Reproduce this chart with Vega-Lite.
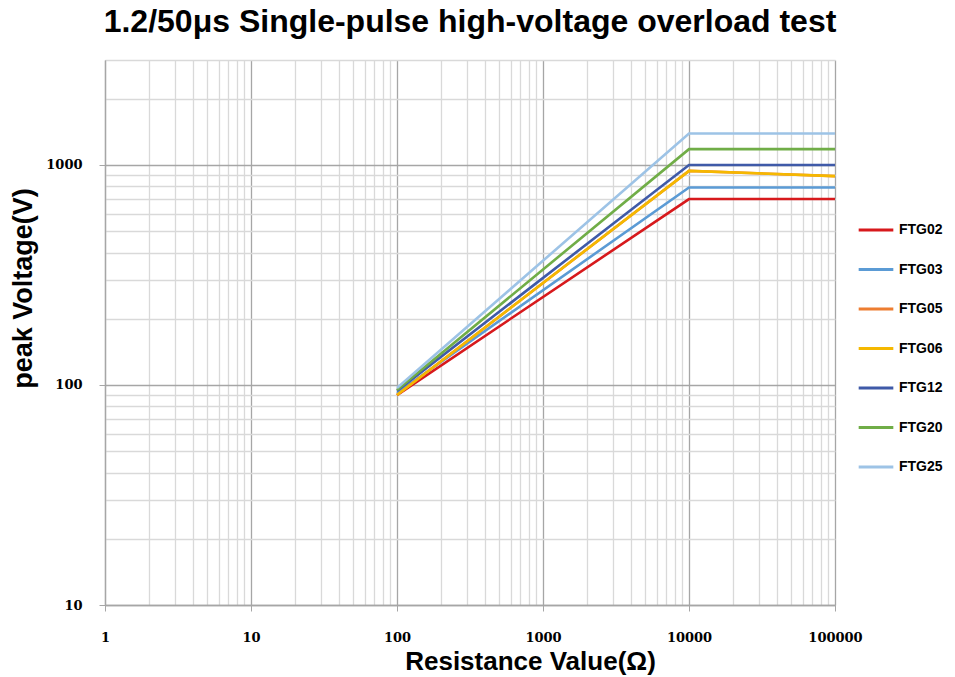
{
  "$schema": "https://vega.github.io/schema/vega-lite/v6.json",
  "autosize": "none",
  "width": 730,
  "height": 545,
  "padding": {"left": 105, "top": 60, "right": 120, "bottom": 72},
  "background": "white",
  "title": {
    "text": "1.2/50μs Single-pulse high-voltage overload test",
    "font": "Liberation Sans",
    "fontSize": 32,
    "fontWeight": "bold",
    "color": "black",
    "anchor": "middle",
    "offset": 15
  },
  "config": {"view": {"stroke": null}},
  "data": {
    "values": [
      {"series": "FTG02", "R": 100, "V": 90},
      {"series": "FTG02", "R": 10000, "V": 700},
      {"series": "FTG02", "R": 100000, "V": 700},
      {"series": "FTG03", "R": 100, "V": 92},
      {"series": "FTG03", "R": 10000, "V": 790},
      {"series": "FTG03", "R": 100000, "V": 790},
      {"series": "FTG05", "R": 100, "V": 90},
      {"series": "FTG05", "R": 10000, "V": 940},
      {"series": "FTG05", "R": 100000, "V": 890},
      {"series": "FTG06", "R": 100, "V": 90},
      {"series": "FTG06", "R": 10000, "V": 940},
      {"series": "FTG06", "R": 100000, "V": 890},
      {"series": "FTG12", "R": 100, "V": 94},
      {"series": "FTG12", "R": 10000, "V": 1000},
      {"series": "FTG12", "R": 100000, "V": 1000},
      {"series": "FTG20", "R": 100, "V": 95},
      {"series": "FTG20", "R": 10000, "V": 1180},
      {"series": "FTG20", "R": 100000, "V": 1180},
      {"series": "FTG25", "R": 100, "V": 97},
      {"series": "FTG25", "R": 10000, "V": 1390},
      {"series": "FTG25", "R": 100000, "V": 1390}
    ]
  },
  "mark": {"type": "line", "strokeWidth": 2.6, "clip": true},
  "encoding": {
    "x": {
      "field": "R",
      "type": "quantitative",
      "scale": {"type": "log", "domain": [1, 100000], "nice": false},
      "axis": {
        "title": "Resistance Value(Ω)",
        "titleFont": "Liberation Sans",
        "titleFontSize": 26,
        "titleFontWeight": "bold",
        "titleColor": "black",
        "titleX": 425,
        "titleY": 64,
        "titleAlign": "center",
        "titleBaseline": "alphabetic",
        "values": [1,2,3,4,5,6,7,8,9,10,20,30,40,50,60,70,80,90,100,200,300,400,500,600,700,800,900,1000,2000,3000,4000,5000,6000,7000,8000,9000,10000,20000,30000,40000,50000,60000,70000,80000,90000,100000],
        "format": "d",
        "labelExpr": "abs(log(datum.value)/LN10 - round(log(datum.value)/LN10)) < 1e-6 ? datum.label : ''",
        "labelFont": "DejaVu Serif",
        "labelFontSize": 13,
        "labelFontWeight": "bold",
        "labelColor": "black",
        "labelPadding": 20,
        "labelFlush": false,
        "labelOverlap": false,
        "grid": true,
        "gridColor": {"condition": {"test": "abs(log(datum.value)/LN10 - round(log(datum.value)/LN10)) < 1e-6", "value": "#a6a6a6"}, "value": "#d9d9d9"},
        "gridWidth": 1.3,
        "tickColor": {"condition": {"test": "abs(log(datum.value)/LN10 - round(log(datum.value)/LN10)) < 1e-6", "value": "#a6a6a6"}, "value": "transparent"},
        "tickSize": 6,
        "domainColor": "#a6a6a6",
        "domainWidth": 1.3
      }
    },
    "y": {
      "field": "V",
      "type": "quantitative",
      "scale": {"type": "log", "domain": [10, 3000], "nice": false},
      "axis": {
        "title": "peak Voltage(V)",
        "titleFont": "Liberation Sans",
        "titleFontSize": 27,
        "titleFontWeight": "bold",
        "titleColor": "black",
        "titleAngle": -90,
        "titleX": -82,
        "titleY": 228,
        "titleAlign": "center",
        "titleBaseline": "middle",
        "values": [10,20,30,40,50,60,70,80,90,100,200,300,400,500,600,700,800,900,1000,2000,3000],
        "format": "d",
        "labelExpr": "abs(log(datum.value)/LN10 - round(log(datum.value)/LN10)) < 1e-6 ? datum.label : ''",
        "labelFont": "DejaVu Serif",
        "labelFontSize": 13,
        "labelFontWeight": "bold",
        "labelColor": "black",
        "labelPadding": 17,
        "labelFlush": false,
        "labelOverlap": false,
        "grid": true,
        "gridColor": {"condition": {"test": "abs(log(datum.value)/LN10 - round(log(datum.value)/LN10)) < 1e-6", "value": "#a6a6a6"}, "value": "#d9d9d9"},
        "gridWidth": 1.3,
        "tickColor": {"condition": {"test": "abs(log(datum.value)/LN10 - round(log(datum.value)/LN10)) < 1e-6", "value": "#a6a6a6"}, "value": "transparent"},
        "tickSize": 6,
        "domainColor": "#a6a6a6",
        "domainWidth": 1.3
      }
    },
    "color": {
      "field": "series",
      "type": "nominal",
      "sort": ["FTG02", "FTG03", "FTG05", "FTG06", "FTG12", "FTG20", "FTG25"],
      "scale": {
        "domain": ["FTG02", "FTG03", "FTG05", "FTG06", "FTG12", "FTG20", "FTG25"],
        "range": ["#d7191c", "#5b9bd5", "#ed7d31", "#f5b800", "#3f5aa8", "#70ad47", "#9dc3e6"]
      },
      "legend": {
        "title": null,
        "orient": "none",
        "legendX": 752,
        "legendY": 151,
        "symbolType": "stroke",
        "symbolSize": 1200,
        "symbolStrokeWidth": 3,
        "rowPadding": 13.5,
        "labelFont": "Liberation Sans",
        "labelFontSize": 14,
        "labelFontWeight": "bold",
        "labelColor": "black",
        "labelOffset": 4
      }
    },
    "order": {"field": "series"}
  }
}
